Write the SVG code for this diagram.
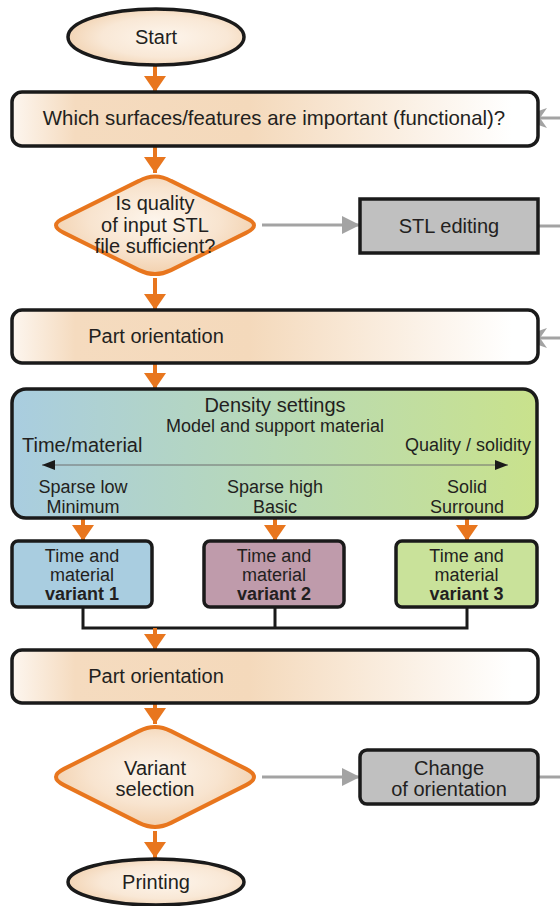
<svg xmlns="http://www.w3.org/2000/svg" width="560" height="906" viewBox="0 0 560 906">
  <defs>
    <linearGradient id="barFill" x1="0" y1="0" x2="1" y2="0">
      <stop offset="0" stop-color="#fdf6ef"/>
      <stop offset="0.12" stop-color="#f5dbbf"/>
      <stop offset="0.45" stop-color="#f4d9bb"/>
      <stop offset="0.95" stop-color="#ffffff"/>
    </linearGradient>
    <radialGradient id="ovalFill" cx="0.55" cy="0.5" r="0.6">
      <stop offset="0" stop-color="#fdf5ec"/>
      <stop offset="0.6" stop-color="#f9e8d6"/>
      <stop offset="1" stop-color="#f1d0ad"/>
    </radialGradient>
    <radialGradient id="diamondFill" cx="0.5" cy="0.45" r="0.6">
      <stop offset="0" stop-color="#fdf5ec"/>
      <stop offset="0.55" stop-color="#f8e4cf"/>
      <stop offset="1" stop-color="#f1cca6"/>
    </radialGradient>
    <linearGradient id="densityFill" x1="0" y1="0" x2="1" y2="0">
      <stop offset="0" stop-color="#a9cde0"/>
      <stop offset="0.5" stop-color="#b8d9b6"/>
      <stop offset="1" stop-color="#c9e28c"/>
    </linearGradient>
    <marker id="orangeHead" markerUnits="userSpaceOnUse" viewBox="0 0 16 22" markerWidth="16" markerHeight="22" refX="16" refY="11" orient="auto">
      <path d="M0,0 L16,11 L0,22 Z" fill="#e8761e"/>
    </marker>
    <marker id="grayHead" markerUnits="userSpaceOnUse" viewBox="0 0 18 18" markerWidth="18" markerHeight="18" refX="18" refY="9" orient="auto">
      <path d="M0,0 L18,9 L0,18 Z" fill="#a3a3a3"/>
    </marker>
    <marker id="scaleHead" markerUnits="userSpaceOnUse" viewBox="0 0 13 10" markerWidth="13" markerHeight="10" refX="13" refY="5" orient="auto-start-reverse">
      <path d="M0,0 L13,5 L0,10 Z" fill="#1a1a1a"/>
    </marker>
  </defs>
  <style>
    text { font-family: "Liberation Sans", Arial, sans-serif; fill: #231f20; }
    .t20 { font-size: 20px; }
    .t18 { font-size: 18px; }
    .mid { text-anchor: middle; }
    .b { font-weight: bold; }
    .bar { fill: url(#barFill); stroke: #1a1a1a; stroke-width: 3.5; }
    .oval { fill: url(#ovalFill); stroke: #1a1a1a; stroke-width: 3.5; }
    .dia { fill: url(#diamondFill); stroke: #e8761e; stroke-width: 4; }
    .grey { fill: #c0c0c0; stroke: #1a1a1a; stroke-width: 3.5; }
    .var { stroke: #1a1a1a; stroke-width: 3.5; }
    .flow { stroke: #e8761e; stroke-width: 4; fill: none; marker-end: url(#orangeHead); }
    .side { stroke: #a3a3a3; stroke-width: 3; fill: none; }
    .sideArrow { stroke: #a3a3a3; stroke-width: 3; fill: none; marker-end: url(#grayHead); }
  </style>

  <!-- connectors -->
  <g id="connectors">
    <path class="flow" d="M155,65 V92"/>
    <path class="flow" d="M155,146 V173"/>
    <path class="flow" d="M155,278 V310"/>
    <path class="flow" d="M155,363 V389"/>
    <path class="flow" d="M83,518 V541"/>
    <path class="flow" d="M275,518 V541"/>
    <path class="flow" d="M467,518 V541"/>
    <path d="M83,607 V628 H467 V607 M275,607 V628" stroke="#1a1a1a" stroke-width="3" fill="none"/>
    <path class="flow" d="M155,628 V650"/>
    <path class="flow" d="M155,703 V724"/>
    <path class="flow" d="M155,831 V858"/>
    <!-- side branches -->
    <path class="sideArrow" d="M262,225 H360"/>
    <path class="side" d="M538,226 H560"/>
    <path class="sideArrow" d="M262,777 H360"/>
    <path class="side" d="M538,777 H560"/>
    <!-- returns entering from the right -->
    <path class="side" d="M560,118 H540"/>
    <path d="M518,118 L547,108 L540,118 L547,128 Z" fill="#a3a3a3"/>
    <path class="side" d="M560,338 H540"/>
    <path d="M518,338 L547,328 L540,338 L547,348 Z" fill="#a3a3a3"/>
  </g>

  <g id="start">
    <ellipse class="oval" cx="156" cy="37" rx="88" ry="28"/>
    <text class="t20 mid" x="156" y="44">Start</text>
  </g>

  <g id="features">
    <rect class="bar" x="12" y="92" width="526" height="54" rx="10"/>
    <text class="mid" x="274" y="125" font-size="20.4">Which surfaces/features are important (functional)?</text>
  </g>

  <g id="stl-check">
    <path class="dia" d="M171 180.9 L246 218.1 Q262 225 246 232.9 L171 270.1 Q155 278 139 270.1 L64 232.9 Q48 225 64 218.1 L139 180.9 Q155 172 171 180.9 Z"/>
    <text class="t20 mid" x="155" y="210">Is quality</text>
    <text class="t20 mid" x="155" y="231.5">of input STL</text>
    <text class="t20 mid" x="155" y="253">file sufficient?</text>
  </g>

  <g id="stl-editing">
    <rect class="grey" x="360" y="199" width="178" height="54"/>
    <text class="t20 mid" x="449" y="233">STL editing</text>
  </g>

  <g id="orientation-1">
    <rect class="bar" x="12" y="310" width="526" height="53" rx="10"/>
    <text class="t20 mid" x="156" y="343">Part orientation</text>
  </g>

  <g id="density">
    <rect x="12" y="389" width="525" height="129" rx="14" fill="url(#densityFill)" stroke="#1a1a1a" stroke-width="3.5"/>
    <text class="t20 mid" x="275" y="412">Density settings</text>
    <text class="t18 mid" x="275" y="432">Model and support material</text>
    <text class="t20" x="22" y="452">Time/material</text>
    <text class="t18" x="531" y="451" text-anchor="end">Quality / solidity</text>
    <path d="M42,465 H508" stroke="#6e6e6e" stroke-width="1" marker-start="url(#scaleHead)" marker-end="url(#scaleHead)"/>
    <text class="t18 mid" x="83" y="493">Sparse low</text>
    <text class="t18 mid" x="83" y="513">Minimum</text>
    <text class="t18 mid" x="275" y="493">Sparse high</text>
    <text class="t18 mid" x="275" y="513">Basic</text>
    <text class="t18 mid" x="467" y="493">Solid</text>
    <text class="t18 mid" x="467" y="513">Surround</text>
  </g>

  <g id="variant-1">
    <rect class="var" x="12" y="541" width="140" height="66" rx="6" fill="#a9cde0"/>
    <text class="t18 mid" x="82" y="562">Time and</text>
    <text class="t18 mid" x="82" y="581">material</text>
    <text class="t18 mid b" x="82" y="600">variant 1</text>
  </g>

  <g id="variant-2">
    <rect class="var" x="204" y="541" width="140" height="66" rx="6" fill="#bf9bab"/>
    <text class="t18 mid" x="274" y="562">Time and</text>
    <text class="t18 mid" x="274" y="581">material</text>
    <text class="t18 mid b" x="274" y="600">variant 2</text>
  </g>

  <g id="variant-3">
    <rect class="var" x="396" y="541" width="141" height="66" rx="6" fill="#c9e29a"/>
    <text class="t18 mid" x="466.5" y="562">Time and</text>
    <text class="t18 mid" x="466.5" y="581">material</text>
    <text class="t18 mid b" x="466.5" y="600">variant 3</text>
  </g>

  <g id="orientation-2">
    <rect class="bar" x="12" y="650" width="526" height="53" rx="10"/>
    <text class="t20 mid" x="156" y="683">Part orientation</text>
  </g>

  <g id="variant-selection">
    <path class="dia" d="M171 731.1 L246 768.9 Q262 777 246 785.1 L171 822.9 Q155 831 139 822.9 L64 785.1 Q48 777 64 768.9 L139 731.1 Q155 723 171 731.1 Z"/>
    <text class="t20 mid" x="155" y="775">Variant</text>
    <text class="t20 mid" x="155" y="796">selection</text>
  </g>

  <g id="change-orientation">
    <rect class="grey" x="360" y="750" width="178" height="54" rx="7"/>
    <text class="t20 mid" x="449" y="775">Change</text>
    <text class="t20 mid" x="449" y="796">of orientation</text>
  </g>

  <g id="printing">
    <ellipse class="oval" cx="156" cy="882" rx="88" ry="23"/>
    <text class="t20 mid" x="156" y="889">Printing</text>
  </g>
</svg>
